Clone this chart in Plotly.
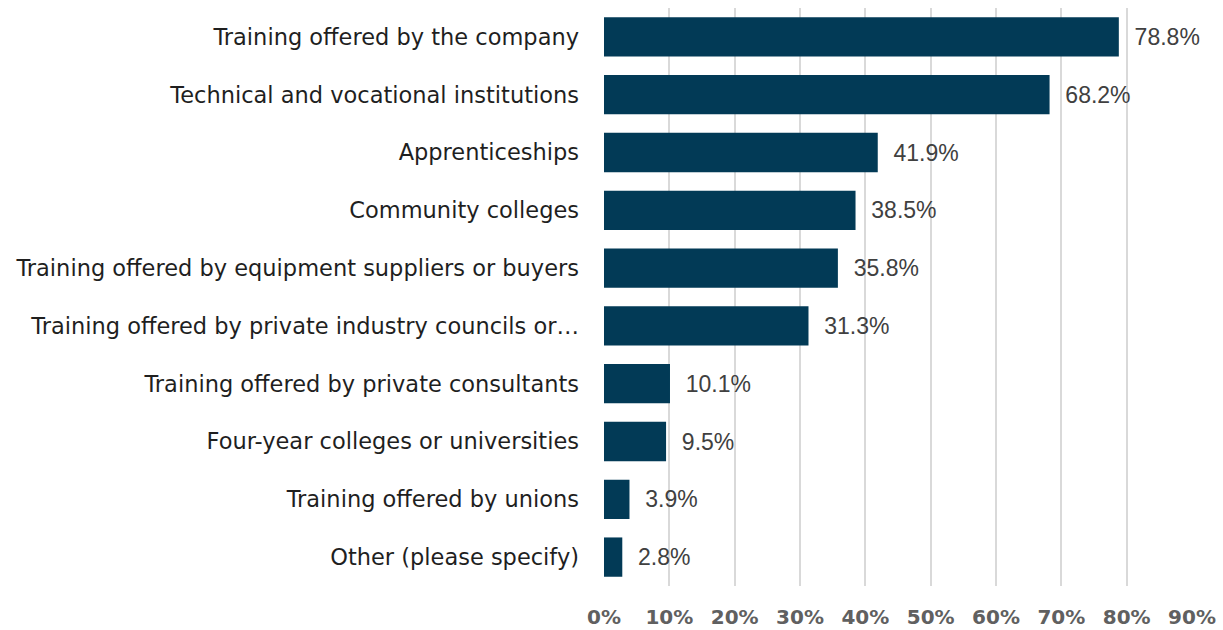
import plotly.graph_objects as go

categories = [
    "Training offered by the company",
    "Technical and vocational institutions",
    "Apprenticeships",
    "Community colleges",
    "Training offered by equipment suppliers or buyers",
    "Training offered by private industry councils or…",
    "Training offered by private consultants",
    "Four-year colleges or universities",
    "Training offered by unions",
    "Other (please specify)",
]
values = [78.8, 68.2, 41.9, 38.5, 35.8, 31.3, 10.1, 9.5, 3.9, 2.8]
tick_vals = [0, 10, 20, 30, 40, 50, 60, 70, 80, 90]
tick_text = [f"{v}%" for v in tick_vals]

BAR_COLOR = "#023a56"

fig = go.Figure(
    go.Bar(
        x=values,
        y=categories,
        orientation="h",
        marker=dict(color=BAR_COLOR, line=dict(width=0)),
        text=[f"  {v:.1f}%" for v in values],
        textposition="outside",
        textfont=dict(family="Liberation Sans, Arial, sans-serif", size=23, color="#404040"),
        cliponaxis=False,
        width=0.68,
    )
)

fig.update_layout(
    width=1223,
    height=630,
    margin=dict(l=604, r=31, t=8, b=44),
    paper_bgcolor="white",
    plot_bgcolor="white",
    showlegend=False,
    uniformtext=dict(minsize=23, mode="show"),
    xaxis=dict(
        range=[0, 90],
        tickvals=tick_vals,
        ticktext=tick_text,
        showgrid=True,
        gridcolor="#d9d9d9",
        gridwidth=1.5,
        zeroline=False,
        showline=False,
        ticks="",
        automargin=False,
        ticklabelstandoff=17,
        tickfont=dict(family="DejaVu Sans, sans-serif", size=20, color="#606060", weight="bold"),
    ),
    yaxis=dict(
        autorange="reversed",
        showgrid=False,
        zeroline=False,
        showline=False,
        ticks="",
        automargin=False,
        ticklabelstandoff=24,
        tickfont=dict(family="DejaVu Sans, sans-serif", size=22.5, color="#1f1f1f"),
    ),
)

fig.write_html("out.html")
